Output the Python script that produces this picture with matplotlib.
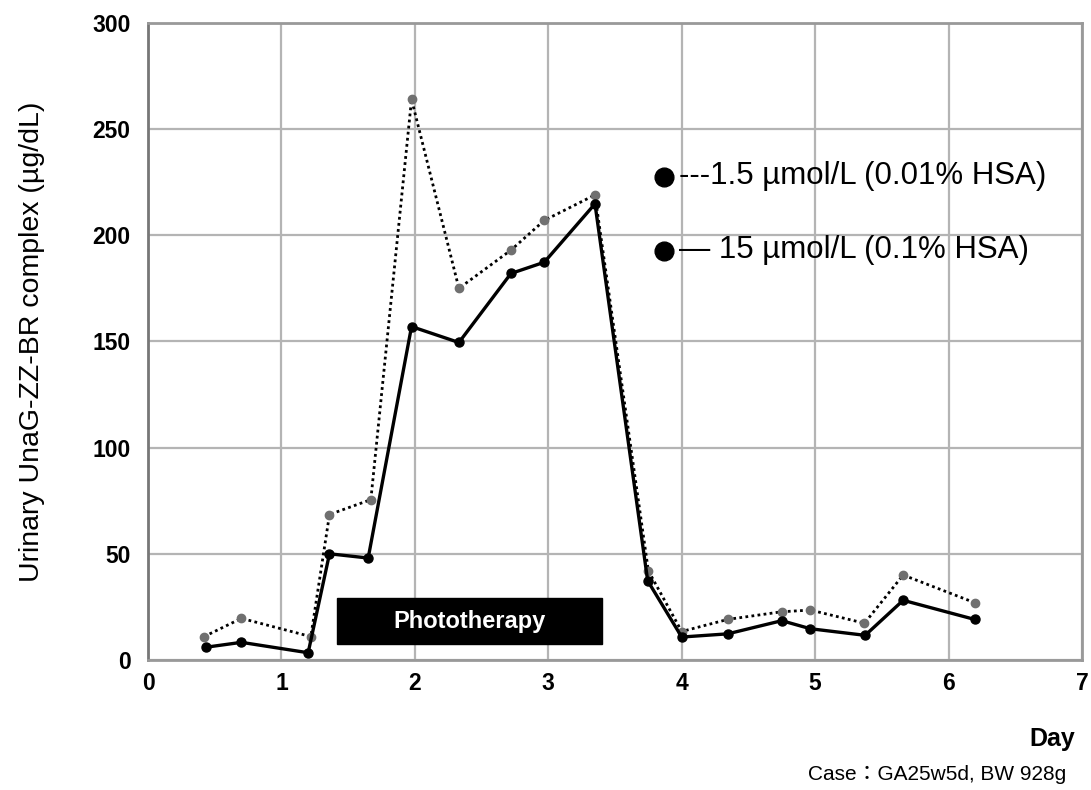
import matplotlib
matplotlib.use('Agg')
import matplotlib.pyplot as plt
from matplotlib.patches import Rectangle

plt.rcParams['font.family'] = ['Liberation Sans', 'Noto Sans CJK JP', 'DejaVu Sans']

# 1.5 umol/L (0.01% HSA) - dotted series
day_low = [0.42, 0.70, 1.22, 1.36, 1.67, 1.975, 2.33, 2.72, 2.97, 3.35, 3.75,
           4.0, 4.345, 4.75, 4.965, 5.37, 5.66, 6.195]
val_low = [11, 19.6, 11, 68.5, 75.5, 264, 175, 193, 207, 219, 42,
           13.4, 19.1, 22.7, 23.5, 17.3, 40, 27]

# 15 umol/L (0.1% HSA) - solid series
day_high = [0.434, 0.70, 1.20, 1.36, 1.65, 1.975, 2.33, 2.72, 2.97, 3.35, 3.745,
            4.0, 4.345, 4.75, 4.965, 5.375, 5.66, 6.195]
val_high = [6, 8.3, 3.4, 50, 48, 157, 149.5, 182, 187.3, 214.8, 37.3,
            10.8, 12.3, 18.5, 14.7, 11.6, 28.1, 19.1]

photo_start, photo_end = 1.42, 3.40
photo_low, photo_high = 7.4, 29

x_ticks = [0, 1, 2, 3, 4, 5, 6, 7]
y_ticks = [0, 50, 100, 150, 200, 250, 300]

fig = plt.figure(figsize=(10.91, 7.90), dpi=100)
ax = fig.add_axes([0.1357, 0.1646, 0.8560, 0.8064])

ax.set_xlim(0, 7)
ax.set_ylim(0, 300)
ax.set_xticks(x_ticks)
ax.set_yticks(y_ticks)
ax.tick_params(length=0, labelsize=16.5)
ax.tick_params(axis='x', pad=9)
ax.tick_params(axis='y', pad=12.5)
for lbl in ax.get_xticklabels() + ax.get_yticklabels():
    lbl.set_fontweight('bold')

ax.grid(True, color='#b4b4b4', lw=1.6)
ax.set_axisbelow(True)
for side, sp in ax.spines.items():
    sp.set_color('#999999')
    sp.set_linewidth(2)
ax.spines['left'].set_color('#777777')

# series
ax.plot(day_low, val_low, color='black', lw=2, linestyle=(0, (1, 1.2)),
        marker='o', ms=6, mfc='#707070', mec='#707070', zorder=3)
ax.plot(day_high, val_high, color='black', lw=2.4, linestyle='-',
        marker='o', ms=6.5, mfc='black', mec='black', zorder=4)

# phototherapy bar
ax.add_patch(Rectangle((photo_start, photo_low), photo_end - photo_start,
                       photo_high - photo_low, facecolor='black',
                       edgecolor='black', zorder=5))
ax.text((photo_start + photo_end) / 2, (photo_low + photo_high) / 2,
        'Phototherapy', color='white', fontsize=17, fontweight='bold',
        ha='center', va='center', zorder=6)

# legend drawn by hand
ax.plot([0.552], [0.758], marker='o', ms=13.5, color='black',
        transform=ax.transAxes, clip_on=False, zorder=6)
ax.text(0.569, 0.760, '---1.5 µmol/L (0.01% HSA)', fontsize=22.5,
        ha='left', va='center', transform=ax.transAxes, zorder=6)
ax.plot([0.552], [0.642], marker='o', ms=13.5, color='black',
        transform=ax.transAxes, clip_on=False, zorder=6)
ax.text(0.569, 0.644, '— 15 µmol/L (0.1% HSA)', fontsize=22.5,
        ha='left', va='center', transform=ax.transAxes, zorder=6)

ax.set_ylabel('Urinary UnaG-ZZ-BR complex (µg/dL)', fontsize=20.5)
ax.yaxis.set_label_coords(-0.110, 0.5)

fig.text(0.985, 0.064, 'Day', fontsize=18, fontweight='bold', ha='right', va='center')
fig.text(0.977, 0.019, 'Case：GA25w5d, BW 928g', fontsize=15,
         ha='right', va='center')

fig.savefig('out.png', dpi=100)
plt.close(fig)
